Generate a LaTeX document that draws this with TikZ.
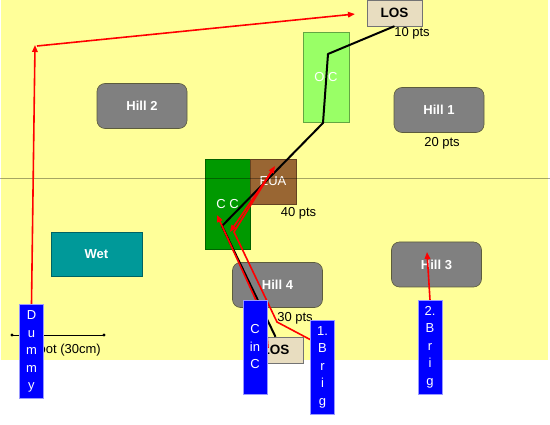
\documentclass[tikz,border=0pt]{standalone}
\usepackage{fontspec}
\setmainfont{Liberation Sans}
\usetikzlibrary{arrows.meta}
\definecolor{Field}{HTML}{FFFF99}
\definecolor{HillGrey}{HTML}{808080}
\definecolor{HillEdge}{HTML}{5C5C3D}
\definecolor{Troop}{HTML}{0000FF}
\definecolor{TroopEdge}{HTML}{9999FF}
\definecolor{LosFill}{HTML}{E8DDC0}
\definecolor{OcGreen}{HTML}{99FF66}
\definecolor{CcGreen}{HTML}{009900}
\definecolor{EuaBrown}{HTML}{996633}
\definecolor{WetTeal}{HTML}{009999}
\definecolor{Route}{HTML}{FF0000}

\begin{document}
\begin{tikzpicture}[x=1pt,y=-1pt,
          hill/.style={draw=HillEdge,fill=HillGrey,rounded corners=8pt,line width=0.6pt,
            minimum width=90pt,minimum height=45pt,text=white,
            font=\fontsize{13}{15}\selectfont\bfseries},
          zone/.style={draw=#1!65!black,fill=#1,inner sep=0pt,text=white,line width=0.6pt,
            font=\fontsize{13}{15}\selectfont},
          troop/.style={draw=TroopEdge,fill=Troop,text=white,inner sep=0pt,
            minimum width=24pt,minimum height=94pt,align=center,
            font=\fontsize{13}{17.5}\selectfont},
          los/.style={draw=black!55,fill=LosFill,inner sep=0pt,minimum width=55pt,
            minimum height=26pt,font=\fontsize{13.5}{15}\selectfont\bfseries},
          pts/.style={inner sep=0pt,font=\fontsize{13}{15}\selectfont},
          move/.style={-{Triangle[length=7pt,width=5.5pt]},draw=Route,line width=1.6pt},
          sight/.style={draw=black,line width=2pt}]
        \useasboundingbox (0,0) rectangle (550,425);
        \fill[Field] (1,0) rectangle (548,360);
        % terrain
        \node[hill] (hillTwo) at (142,106) {Hill 2};
        \node[hill] (hillOne) at (439,110) {Hill 1};
        \node[hill] (hillThree) at (436.5,264.5) {Hill 3};
        \node[hill] (hillFour) at (277.5,285) {Hill 4};
        \node[zone=WetTeal,minimum width=91pt,minimum height=44pt,font=\fontsize{13}{15}\selectfont\bfseries]
          (wet) at (96.5,254) {Wet};
        \node[zone=OcGreen,minimum width=46pt,minimum height=90pt] (oc) at (326,77) {O C};
        \node[zone=CcGreen,minimum width=45pt,minimum height=90pt] (cc) at (227.5,204) {C C};
        \node[zone=EuaBrown,minimum width=46pt,minimum height=45pt] (eua) at (273,181.5) {EUA};
        \draw[black,opacity=0.35,line width=1pt] (0,179) -- (550,179);
        % points
        \node[los] (losTop) at (394.5,13) {LOS};
        \node[los] (losBot) at (275.5,350) {LOS};
        \node[pts] (ptsTen) at (412,33) {10 pts};
        \node[pts] (ptsTwenty) at (442,143) {20 pts};
        \node[pts] (ptsForty) at (298.5,213) {40 pts};
        \node[pts] (ptsThirty) at (295,318) {30 pts};
        % scale
        \coordinate (scaleL) at (12,335);
        \coordinate (scaleR) at (104,335);
        \draw[line width=0.6pt] (scaleL) -- (scaleR);
        \fill (scaleL) circle (1.6pt) (scaleR) circle (1.6pt);
        \node[pts,anchor=east] (scale) at (101,350) {1 foot (30cm)};
        % line of sight
        \coordinate (bendA) at (328,54);
        \coordinate (bendB) at (323,123);
        \coordinate (bendC) at (222,226);
        \draw[sight,line join=round] (losTop.south) -- (bendA) -- (bendB) -- (bendC) -- (losBot.north);
        % moves
        \coordinate (turnD) at (35,45);
        \coordinate (turnA) at (277,322);
        \coordinate (turnB) at (234,232);
        \coordinate (turnC) at (266,322);
        \draw[move] (31.5,304) -- (turnD);
        \draw[move] (37,46) -- (355,14);
        \draw[move] (311,340) -- (turnA) -- (turnB) -- (275,166);
        \draw[move] (272,171) -- (230,232);
        \draw[move] (268,348) -- (turnC) -- (217,215);
        \draw[move] (430,300) -- (427,252);
        % units
        \node[troop] (dummy) at (31.5,351.5) {D\\u\\m\\m\\y};
        \node[troop] (cinc) at (255,347) {C\\in\\C};
        \node[troop] (brigOne) at (322.5,367) {1.\\B\\r\\i\\g};
        \node[troop] (brigTwo) at (430,347) {2.\\B\\r\\i\\g};
      \end{tikzpicture}
\end{document}
